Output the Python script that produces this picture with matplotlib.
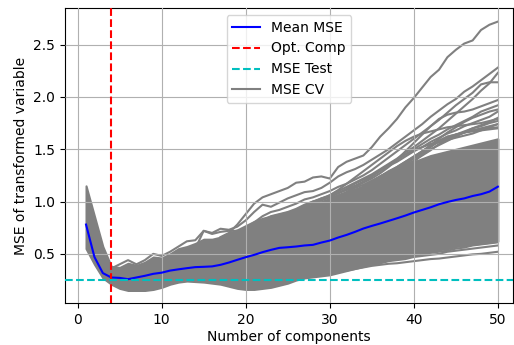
import numpy as np
import matplotlib
matplotlib.use("Agg")
import matplotlib.pyplot as plt

# ---- data ----
components = list(range(1, 51))

mean_mse = [0.78, 0.47, 0.316, 0.274, 0.27, 0.258, 0.274, 0.29, 0.309, 0.32,
            0.34, 0.352, 0.363, 0.373, 0.376, 0.38, 0.395, 0.417, 0.443, 0.468,
            0.49, 0.516, 0.538, 0.557, 0.563, 0.57, 0.58, 0.586, 0.608, 0.627,
            0.656, 0.681, 0.71, 0.742, 0.767, 0.79, 0.815, 0.84, 0.866, 0.895,
            0.92, 0.945, 0.974, 0.996, 1.015, 1.03, 1.053, 1.07, 1.095, 1.142]

# dense core of the CV curves (lower / upper edge)
cv_core_low = [0.55, 0.40, 0.27, 0.21, 0.17, 0.15, 0.15, 0.15, 0.16, 0.18,
               0.21, 0.23, 0.24, 0.235, 0.23, 0.22, 0.21, 0.19, 0.17, 0.16,
               0.16, 0.17, 0.18, 0.20, 0.22, 0.25, 0.27, 0.28, 0.29, 0.30,
               0.32, 0.34, 0.36, 0.38, 0.40, 0.42, 0.44, 0.46, 0.48, 0.49,
               0.51, 0.52, 0.54, 0.55, 0.57, 0.58, 0.59, 0.60, 0.61, 0.62]
cv_core_high = [1.15, 0.86, 0.57, 0.38, 0.37, 0.41, 0.39, 0.42, 0.47, 0.46,
                0.50, 0.55, 0.57, 0.60, 0.64, 0.64, 0.66, 0.70, 0.73, 0.77,
                0.81, 0.84, 0.86, 0.88, 0.90, 0.92, 0.94, 0.97, 1.00, 1.03,
                1.06, 1.09, 1.12, 1.15, 1.19, 1.23, 1.27, 1.31, 1.35, 1.38,
                1.41, 1.44, 1.46, 1.48, 1.50, 1.52, 1.54, 1.56, 1.58, 1.60]

# individual CV curves that stand out from the core: (first component, values)
cv_start = [17, 14, 20, 25, 22, 24, 26, 28, 30, 32, 34, 36, 38, 35, 40, 4, 32, 34, 36]
cv_values = [
    [0.66, 0.70, 0.78, 0.88, 0.98, 1.04, 1.07, 1.10, 1.13, 1.18, 1.19, 1.23, 1.24, 1.22, 1.33, 1.38, 1.41,
     1.44, 1.52, 1.62, 1.70, 1.79, 1.90, 1.99, 2.09, 2.19, 2.26, 2.38, 2.45, 2.51, 2.54, 2.64, 2.69, 2.72],
    [0.55, 0.72, 0.70, 0.74, 0.73, 0.76, 0.82, 0.90, 0.97, 0.95, 0.99, 1.03, 1.06, 1.09, 1.10, 1.13, 1.18,
     1.24, 1.28, 1.31, 1.35, 1.40, 1.45, 1.50, 1.56, 1.62, 1.68, 1.74, 1.81, 1.87, 1.93, 1.98, 2.05, 2.10,
     2.16, 2.22, 2.28],
    [0.75, 0.80, 0.86, 0.90, 0.92, 0.95, 0.98, 1.02, 1.04, 1.07, 1.10, 1.14, 1.17, 1.21, 1.25, 1.30, 1.36,
     1.42, 1.48, 1.54, 1.60, 1.66, 1.72, 1.78, 1.85, 1.92, 1.98, 2.04, 2.12, 2.14, 2.14],
    [0.88, 0.92, 0.96, 1.00, 1.03, 1.06, 1.10, 1.14, 1.18, 1.22, 1.26, 1.31, 1.36, 1.41, 1.47, 1.52, 1.58,
     1.64, 1.70, 1.77, 1.84, 1.91, 1.98, 2.06, 2.13, 2.23],
    [0.82, 0.86, 0.88, 0.90, 0.93, 0.97, 1.00, 1.02, 1.05, 1.08, 1.11, 1.14, 1.18, 1.22, 1.27, 1.33, 1.40,
     1.48, 1.56, 1.64, 1.72, 1.79, 1.83, 1.85, 1.86, 1.88, 1.91, 1.94, 1.97],
    [0.86, 0.88, 0.91, 0.95, 0.98, 1.01, 1.04, 1.08, 1.12, 1.15, 1.19, 1.24, 1.29, 1.34, 1.40, 1.45, 1.50,
     1.55, 1.60, 1.64, 1.69, 1.73, 1.77, 1.81, 1.86, 1.89, 1.92],
    [0.90, 0.94, 0.99, 1.03, 1.05, 1.08, 1.12, 1.17, 1.21, 1.25, 1.30, 1.34, 1.38, 1.43, 1.48, 1.52, 1.57,
     1.61, 1.65, 1.68, 1.72, 1.75, 1.78, 1.81, 1.86],
    [0.97, 1.02, 1.06, 1.11, 1.17, 1.23, 1.29, 1.35, 1.41, 1.47, 1.53, 1.58, 1.62, 1.65, 1.67, 1.69, 1.71,
     1.72, 1.73, 1.74, 1.75, 1.77, 1.79],
    [1.03, 1.06, 1.09, 1.13, 1.16, 1.20, 1.24, 1.28, 1.32, 1.37, 1.42, 1.48, 1.54, 1.60, 1.66, 1.71, 1.76,
     1.80, 1.83, 1.86, 1.88],
    [1.09, 1.14, 1.19, 1.24, 1.30, 1.35, 1.40, 1.45, 1.49, 1.52, 1.55, 1.57, 1.59, 1.61, 1.63, 1.65, 1.68,
     1.71, 1.74],
    [1.15, 1.19, 1.24, 1.29, 1.33, 1.38, 1.43, 1.48, 1.53, 1.57, 1.60, 1.63, 1.66, 1.68, 1.70, 1.72, 1.74],
    [1.23, 1.28, 1.33, 1.38, 1.43, 1.48, 1.53, 1.58, 1.62, 1.64, 1.66, 1.67, 1.68, 1.69, 1.70],
    [1.31, 1.36, 1.41, 1.46, 1.50, 1.54, 1.58, 1.62, 1.66, 1.70, 1.73, 1.76, 1.80],
    [1.19, 1.24, 1.28, 1.31, 1.35, 1.39, 1.44, 1.49, 1.55, 1.60, 1.64, 1.67, 1.70, 1.72, 1.75, 1.77],
    [1.38, 1.45, 1.52, 1.58, 1.62, 1.64, 1.66, 1.68, 1.69, 1.70, 1.71],
    [0.36, 0.40, 0.44, 0.40, 0.44, 0.50, 0.48, 0.52, 0.57, 0.62, 0.63, 0.72, 0.69, 0.71, 0.72, 0.72],
    [0.34, 0.355, 0.37, 0.385, 0.395, 0.405, 0.41, 0.42, 0.43, 0.44, 0.45, 0.455, 0.465, 0.475, 0.485,
     0.495, 0.50, 0.51, 0.52],
    [0.38, 0.40, 0.41, 0.43, 0.44, 0.45, 0.47, 0.48, 0.49, 0.50, 0.52, 0.53, 0.54, 0.55, 0.56, 0.57, 0.58],
    [0.42, 0.44, 0.45, 0.46, 0.48, 0.49, 0.51, 0.52, 0.53, 0.55, 0.56, 0.58, 0.59, 0.60, 0.61],
]

opt_comp = 4
mse_test = 0.252

# ---- plot ----
fig = plt.figure(figsize=(5.14, 3.45), dpi=100)
ax = fig.add_axes([0.1265, 0.1217, 0.8715, 0.8551])

ax.fill_between(components, cv_core_low, cv_core_high, facecolor="gray",
                edgecolor="gray", linewidth=1.5, zorder=2)
for i, (s, vals) in enumerate(zip(cv_start, cv_values)):
    xs = list(range(s, s + len(vals)))
    ax.plot(xs, vals, color="gray", lw=1.5, zorder=2,
            label="MSE CV" if i == 0 else None)

ax.plot(components, mean_mse, color="b", lw=1.5, zorder=3, label="Mean MSE")
ax.axvline(opt_comp, color="r", ls="--", lw=1.5, zorder=3, label="Opt. Comp")
ax.axhline(mse_test, color="c", ls="--", lw=1.5, zorder=3, label="MSE Test")

ax.set_xlim(-1.5, 51.8)
ax.set_ylim(0.03, 2.85)
ax.set_xticks([0, 10, 20, 30, 40, 50])
ax.set_yticks([0.5, 1.0, 1.5, 2.0, 2.5])
ax.grid(True, color="#b0b0b0", lw=0.8)
ax.set_axisbelow(False)
for gl in ax.get_xgridlines() + ax.get_ygridlines():
    gl.set_zorder(1.5)

ax.set_xlabel("Number of components", labelpad=2)
ax.set_ylabel("MSE of transformed variable")

handles, labels = ax.get_legend_handles_labels()
order = ["Mean MSE", "Opt. Comp", "MSE Test", "MSE CV"]
hmap = dict(zip(labels, handles))
ax.legend([hmap[k] for k in order], order, loc="upper center")

fig.savefig("out.png", dpi=100)
